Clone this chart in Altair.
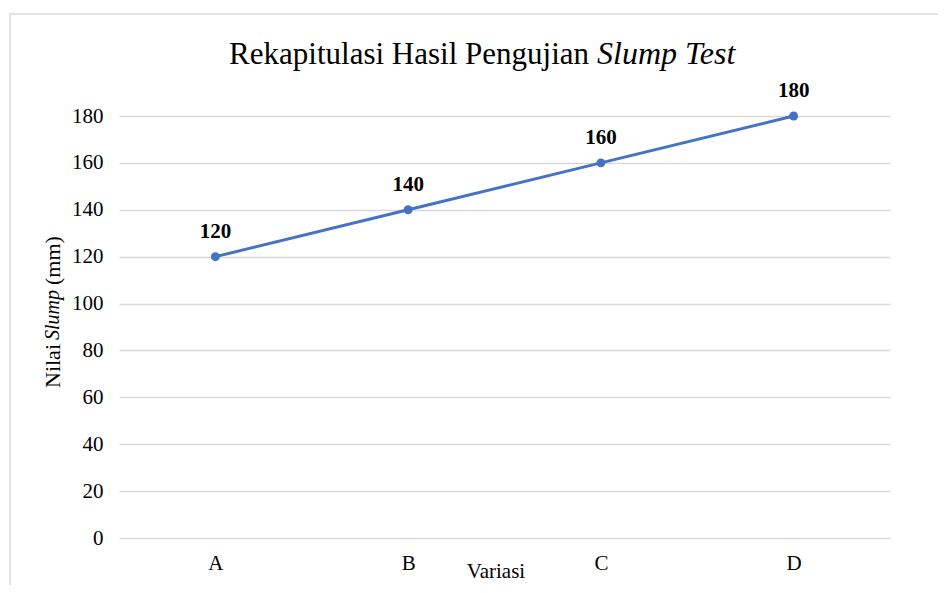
import altair as alt
import pandas as pd

categories = ["A", "B", "C", "D"]
slump_values = [120, 140, 160, 180]
y_ticks = [0, 20, 40, 60, 80, 100, 120, 140, 160, 180]

title_regular = "Rekapitulasi Hasil Pengujian"
title_italic = "Slump Test"
ytitle_parts = ["Nilai", "Slump", "(mm)"]
xtitle = "Variasi"

FONT = "Liberation Serif"
W, H = 771, 422
PL, PT = 111, 108

df = pd.DataFrame({"Variasi": categories, "Slump": slump_values})

xenc = alt.X("Variasi:N", sort=categories,
             scale=alt.Scale(type="point", padding=0.5),
             axis=alt.Axis(title=None, labelAngle=0, domain=False, ticks=False,
                           grid=False, labelFont=FONT, labelFontSize=21,
                           labelColor="#000000", labelPadding=14))
yenc = alt.Y("Slump:Q", scale=alt.Scale(domain=[0, 180], nice=False),
             axis=alt.Axis(title=None, values=y_ticks, domain=False, ticks=False,
                           grid=True, gridColor="#D9D9D9", gridWidth=1.5,
                           labelFont=FONT, labelFontSize=21, labelColor="#000000",
                           labelPadding=16))

base = alt.Chart(df)
line = base.mark_line(color="#4472C4", strokeWidth=3).encode(x=xenc, y=yenc)
pts = base.mark_point(filled=True, color="#4472C4", size=80, opacity=1).encode(x=xenc, y=yenc)
labels = base.mark_text(font=FONT, fontSize=21, fontWeight="bold", color="#000000",
                        dy=-19, baseline="alphabetic").encode(
    x=xenc, y=yenc, text=alt.Text("Slump:Q"))


def txt(s, x, y, **kw):
    return alt.Chart(pd.DataFrame({"t": [s]})).mark_text(
        font=FONT, color="#000000", **kw).encode(
        text="t:N", x=alt.value(x), y=alt.value(y))


frame = alt.Chart(pd.DataFrame({"t": [0]})).mark_rect(
    fill=None, stroke="#D9D9D9", strokeWidth=1.5).encode(
    x=alt.value(10 - 8 - PL), x2=alt.value(980 - PL),
    y=alt.value(14 - 8 - PT), y2=alt.value(640 - PT))

ox, oy = 8 + PL, 8 + PT
t1 = txt(title_regular, 589 - ox, 64 - oy, fontSize=31, align="right", baseline="alphabetic")
t2 = txt(title_italic, 597 - ox, 64 - oy, fontSize=32, fontStyle="italic", align="left", baseline="alphabetic")

yx = 53 - ox
ya = txt(ytitle_parts[0], yx, 344 - oy, fontSize=22, angle=270, align="right", baseline="middle")
yb = txt(ytitle_parts[1], yx, 340 - oy, fontSize=20, angle=270, align="left", baseline="middle", fontStyle="italic")
yc = txt(ytitle_parts[2], yx, 285 - oy, fontSize=22, angle=270, align="left", baseline="middle")

xt = txt(xtitle, 496 - ox, 578 - oy, fontSize=21, align="center", baseline="alphabetic")

chart = alt.layer(frame, line, pts, labels, t1, t2, ya, yb, yc, xt).properties(
    width=W, height=H,
    padding={"left": PL, "top": PT, "right": 930 - PL - W, "bottom": 577 - PT - H},
    autosize=alt.AutoSizeParams(type="none"),
    background="#FFFFFF",
).configure_view(stroke=None)

chart.save("out.html", embed_options={"renderer": "svg", "actions": False})
